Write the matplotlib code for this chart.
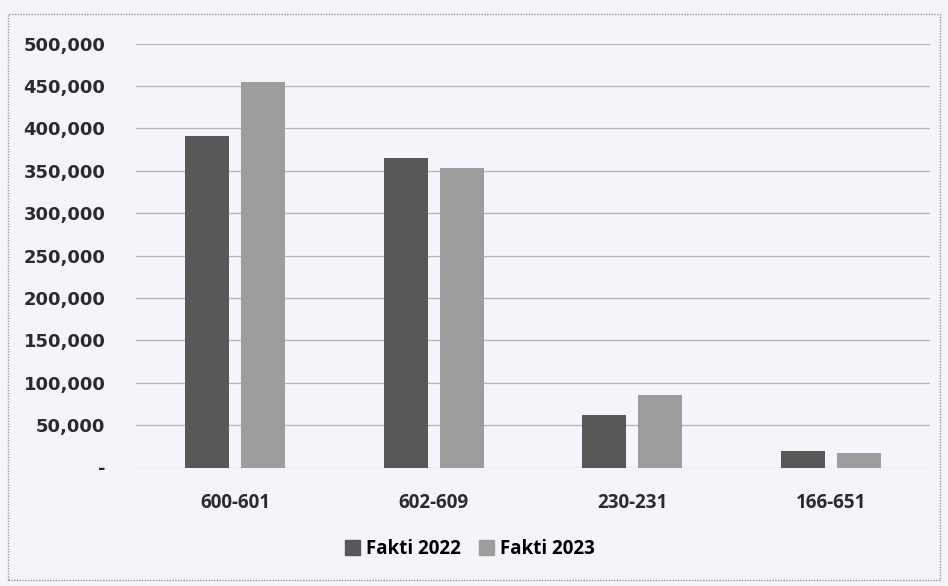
import numpy as np
import matplotlib
matplotlib.use("Agg")
import matplotlib.pyplot as plt
import matplotlib.patches as patch

categories = ["600-601", "602-609", "230-231", "166-651"]
fakti_2022 = [391000, 365000, 62000, 19000]
fakti_2023 = [455000, 353000, 85000, 17000]
y_ticks = [0, 50000, 100000, 150000, 200000, 250000, 300000, 350000, 400000, 450000, 500000]

dark = "#585858"
light = "#9d9d9d"
bg = "#f5f4fa"

fig = plt.figure(figsize=(9.48, 5.86), dpi=100)
fig.patch.set_facecolor(bg)

# dotted frame like the scanned chart border
frame = patch.Rectangle((8 / 948, 6 / 586), 932 / 948, 566 / 586, transform=fig.transFigure,
                        fill=False, edgecolor="#9a9a9a", linestyle=(0, (1, 1)), linewidth=1)
fig.patches.append(frame)

ax = fig.add_axes([136 / 948, 1 - 467.5 / 586, 794 / 948, 424 / 586])
ax.set_facecolor(bg)

x = np.arange(len(categories))
w = 0.222
ax.bar(x - 0.141, fakti_2022, width=w, color=dark, zorder=3)
ax.bar(x + 0.141, fakti_2023, width=w, color=light, zorder=3)

ax.set_xlim(-0.5, len(categories) - 0.5)
ax.set_ylim(0, 500000)
ax.set_yticks(y_ticks)
ax.set_yticklabels(["-" if v == 0 else "{:,}".format(v) for v in y_ticks],
                   fontsize=13, fontweight="bold", color="#2b2b2b", family="DejaVu Sans")
ax.set_xticks(x)
ax.set_xticklabels(categories, fontsize=13.5, fontweight="bold", color="#2b2b2b", family="Open Sans")
ax.tick_params(axis="both", length=0)
ax.tick_params(axis="y", pad=22)
ax.tick_params(axis="x", pad=18)

ax.grid(axis="y", color="#b4b4b4", linewidth=0.9, zorder=0)
for s in ax.spines.values():
    s.set_visible(False)

# legend
handles = [patch.Patch(color=dark, label="Fakti 2022"),
           patch.Patch(color=light, label="Fakti 2023")]
fig.legend(handles=handles, loc="center", bbox_to_anchor=(470 / 948, 1 - 549 / 586), ncol=2,
           frameon=False, handlelength=0.8, handleheight=0.8, handletextpad=0.3, columnspacing=1.0,
           prop={"family": "Open Sans", "weight": "bold", "size": 13.5})

fig.savefig("out.png", dpi=100, facecolor=bg)
